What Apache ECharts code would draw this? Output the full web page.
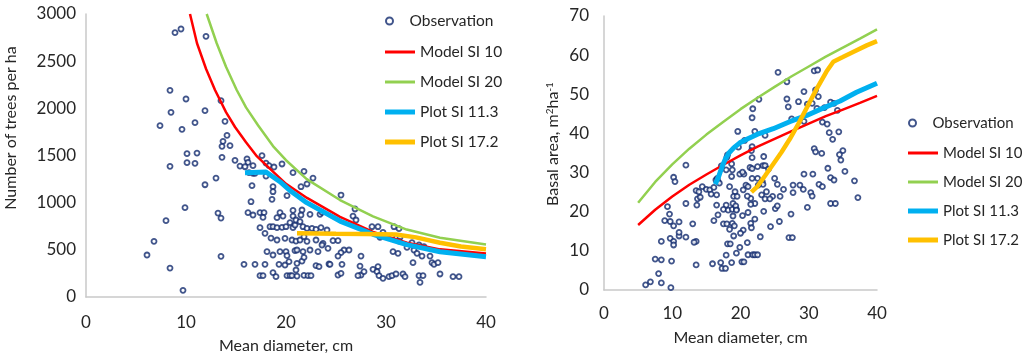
<!DOCTYPE html>
<html><head><meta charset="utf-8">
<script src="https://cdn.jsdelivr.net/npm/echarts@6/dist/echarts.min.js"></script>
<style>html,body{margin:0;padding:0;background:#fff}#c{width:1024px;height:357px}</style>
</head><body><div id="c"></div>
<script>
// ---------- Left panel: Number of trees per ha ----------
const leftObs = [
[8.9,2802],[9.5,2841],[12.0,2763],[8.4,2191],[10.0,2099],[13.5,2081],[8.5,1958],[11.9,1975],[7.4,1816],[9.6,1777],
[10.9,1848],[13.9,1862],[14.1,1714],[13.7,1650],[13.6,1597],[14.4,1604],[10.1,1519],[11.1,1526],[13.6,1481],[14.9,1449],
[10.1,1424],[10.9,1417],[8.4,1385],[13.0,1261],[11.9,1190],[9.9,947],[13.2,890],[13.5,837],[8.0,809],[6.8,590],
[6.1,445],[13.5,431],[8.4,307],[9.7,71],
[16.1,1463],[16.2,1427],[16.7,1392],[17.6,1498],[18.0,1420],[18.3,1392],[18.8,1378],[19.6,1410],[15.4,1388],[15.9,1381],
[16.3,1318],[16.7,1311],[16.9,1311],[18.0,1282],[16.6,1180],[18.7,1169],[18.7,1116],[18.6,1035],[16.5,1010],[20.1,1074],
[20.7,1318],[21.8,1332],[22.7,1261],[22.1,1198],[21.5,1169],[16.2,894],[16.7,869],[17.4,894],[17.8,894],[17.7,844],
[19.1,841],[19.4,894],[19.7,858],[20.7,918],[20.7,858],[21.6,922],[21.5,869],[22.4,876],[23.4,876],[23.6,897],
[17.4,735],[18.4,745],[18.7,745],[19.1,735],[19.6,738],[20.0,745],[20.4,788],[20.7,735],[20.9,763],[21.0,816],
[21.4,798],[21.7,745],[22.1,728],[22.6,728],[23.0,717],[23.5,735],[24.1,710],[17.9,675],[18.5,625],[19.1,604],
[19.9,622],[20.6,604],[21.0,593],[21.4,604],[21.8,639],[22.1,590],[23.0,604],[23.7,569],[24.2,516],[23.6,551],
[18.1,480],[18.7,445],[19.4,480],[20.0,480],[20.1,438],[20.9,491],[21.1,498],[21.7,480],[22.4,498],[23.2,480],
[15.8,346],[16.9,346],[17.9,346],[19.3,346],[19.9,339],[20.3,374],[21.1,357],[21.6,381],[21.8,420],[23.0,332],
[23.3,321],[24.3,350],[17.4,226],[17.7,226],[18.7,258],[19.0,215],[20.1,226],[20.4,226],[20.6,226],[21.0,286],
[21.1,222],[21.8,229],[22.2,226],[22.5,226],
[25.5,1081],[26.9,933],[26.7,858],[27.0,816],[28.6,745],[29.2,745],[29.7,685],[29.4,632],[30.8,745],[31.3,724],
[30.6,646],[31.4,632],[31.3,593],[24.7,597],[25.2,597],[25.8,498],[26.3,498],[25.5,470],[25.2,434],[27.5,434],
[30.7,480],[31.2,463],[32.1,526],[32.6,576],[33.3,551],[33.8,533],[32.8,498],[33.1,463],[33.6,434],[34.4,434],
[32.7,364],[34.6,364],[34.8,346],[35.2,364],[24.4,346],[25.6,346],[27.4,328],[29.2,321],[27.5,233],[27.8,268],
[27.2,226],[25.2,233],[25.5,251],[28.7,293],[29.1,268],[29.3,226],[29.7,198],[30.3,215],[30.6,226],[31.0,244],
[31.7,244],[31.9,215],[33.3,226],[33.7,226],[33.4,155],[35.4,244],[36.7,215],[37.3,215]
];
const leftModel10 = [[10.4,3000],[11.1,2690],[12.0,2420],[12.9,2194],[14.0,1960],[14.9,1802],[16.0,1640],[17.1,1490],[18.7,1330],[20.0,1200],[22.1,1050],[25.4,850],[28.7,690],[32.1,575],[35.4,505],[40,462]];
const leftModel20 = [[12.07,3000],[13.07,2690],[14.0,2440],[15.07,2194],[16.0,2010],[17.2,1820],[18.7,1600],[20.0,1450],[22.07,1250],[25.4,1028],[28.7,855],[32.07,715],[35.4,628],[40,556]];
const leftPlot113 = [[15.9,1318],[18.0,1325],[19.4,1222],[20.5,1120],[22.07,1000],[25.4,805],[28.7,665],[32.07,555],[35.4,480],[40,427]];
const leftPlot172 = [[21.1,675],[25.0,670],[28.0,668],[31.0,662],[33.0,632],[35.4,575],[37.5,535],[40,506]];

// ---------- Right panel: Basal area ----------
const rightObs = [
[6.1,1.3],[6.8,2.1],[8.4,1.8],[9.8,0.6],[8.0,4.2],[7.5,7.9],[8.4,7.7],[9.9,7.4],[8.4,12.4],[9.7,13.2],
[10.2,12.4],[10.2,11.5],[11.0,13.8],[11.0,14.7],[12.0,13.5],[13.5,12.4],[13.2,12.2],[8.9,17.7],[9.7,17.5],[10.2,16.4],
[11.0,17.4],[13.0,16.9],[9.6,19.4],[9.3,21.3],[12.0,22.1],[13.6,21.7],[13.7,23.3],[14.1,23.7],[13.5,25.4],[13.9,25.1],
[14.4,26.4],[15.0,25.7],[15.5,25.6],[15.7,24.5],[16.5,24.3],[16.1,26.2],[16.4,28.1],[16.6,28.5],[16.7,27.7],[16.9,27.3],
[17.2,31.7],[17.9,30.7],[18.1,34.5],[18.0,33.9],[18.7,32.2],[18.7,29.0],[18.4,26.4],[12.0,31.9],[10.2,28.8],[10.4,27.7],
[16.5,21.7],[17.9,21.7],[17.5,20.6],[18.2,20.4],[18.8,20.6],[19.4,20.6],[18.9,18.9],[16.1,17.7],[17.5,16.9],[18.0,16.9],
[18.8,17.0],[19.1,16.4],[18.4,15.5],[16.7,19.2],[18.1,11.8],[18.5,11.8],[19.0,13.8],[17.9,8.9],[18.7,7.0],[19.4,9.4],
[17.1,7.0],[17.3,5.5],[17.8,5.5],[15.9,6.7],[13.5,6.4],
[25.5,55.6],[30.8,56.0],[31.3,56.2],[26.8,53.2],[29.3,50.7],[31.0,51.1],[31.4,49.4],[26.8,48.8],[28.5,48.1],[29.8,47.5],
[30.5,47.7],[27.0,46.8],[31.2,46.4],[32.3,46.6],[33.2,48.0],[33.7,47.7],[34.2,45.9],[22.7,48.7],[21.8,46.3],[21.7,44.0],
[27.5,43.7],[29.3,43.1],[32.0,42.9],[32.7,42.4],[33.0,40.2],[34.4,40.4],[33.5,38.5],[19.6,40.5],[22.1,40.5],[20.6,38.2],
[23.6,39.5],[19.7,36.5],[21.7,36.6],[21.6,35.6],[21.7,33.8],[23.4,34.1],[30.8,36.1],[31.0,35.3],[31.9,34.9],[35.0,35.6],
[34.5,34.6],[34.7,33.2],[35.3,30.3],[32.8,31.1],[36.7,27.9],[37.2,23.6],[33.2,28.7],[33.7,28.1],[29.3,29.6],[30.6,29.6],
[31.5,27.0],[32.0,26.4],[28.7,26.8],[27.7,26.8],[27.7,24.9],[29.2,25.7],[30.3,24.9],[30.5,24.0],[29.8,21.1],[33.2,22.1],
[33.9,22.1],[27.4,19.4],[27.1,13.4],[27.6,13.4],[25.7,17.5],[24.4,16.2],[23.4,20.1],[22.9,13.6],[25.1,20.8],[25.4,21.5],
[24.7,23.9],[25.8,23.9],[26.3,25.7],[25.4,27.0],[25.0,28.5],[23.8,25.1],[23.1,24.3],[23.6,23.3],[24.3,23.3],[22.1,22.1],
[21.5,23.4],[21.0,24.0],[20.8,26.8],[21.1,26.4],[19.9,29.6],[20.5,29.6],[21.4,31.3],[21.7,31.0],[23.3,31.8],[23.6,31.8],
[22.5,31.5],[24.1,30.9],[23.2,27.7],[23.3,27.0],[22.6,26.8],[22.5,28.5],[21.7,28.5],[20.3,30.1],[18.8,30.7],[19.2,25.1],
[19.0,23.9],[19.5,23.9],[20.4,25.6],[18.9,22.1],[19.3,21.5],[19.4,20.4],[20.3,19.0],[21.1,19.8],[21.5,21.9],[22.1,18.1],
[21.5,17.0],[21.6,15.9],[20.4,15.3],[20.0,14.5],[21.0,12.1],[19.9,10.9],[21.1,9.0],[21.8,9.0],[22.1,9.0],[22.5,9.0],
[20.2,7.2],[20.5,7.2]
];
const rightModel10 = [[5,16.6],[7.5,20.5],[10,23.9],[12.5,26.9],[15,29.5],[17.5,32.0],[20,34.4],[22.5,36.6],[25,38.6],[27.5,40.6],[30,42.5],[32.5,44.4],[35,46.1],[37.5,47.8],[40,49.6]];
const rightModel20 = [[5,22.3],[7.5,27.6],[10,32.1],[12.5,36.1],[15,39.7],[17.5,43.0],[20,46.2],[22.5,49.1],[25,51.9],[27.5,54.6],[30,57.1],[32.5,59.6],[35,61.9],[37.5,64.2],[40,66.6]];
const rightPlot113 = [[16.3,27.0],[16.8,29.0],[17.3,31.5],[17.8,33.5],[18.3,35.0],[19.0,36.3],[19.9,37.6],[21.0,38.6],[22.5,39.8],[24.8,41.2],[27.2,43.0],[29.7,44.6],[32.0,46.4],[34.6,48.3],[37.0,50.5],[40,52.8]];
const rightPlot172 = [[21.6,25.0],[22.5,26.5],[23.6,29.2],[24.8,32.2],[26.0,35.2],[27.2,38.5],[28.5,42.5],[29.9,47.2],[31.1,51.2],[32.6,55.8],[33.6,58.3],[35.0,59.5],[36.5,60.8],[38.5,62.5],[40,63.6]];

const names = ['Observation','Model SI 10','Model SI 20','Plot SI 11.3','Plot SI 17.2'];
const colors = {obs:'#112B6E', m10:'#FF0000', m20:'#92D050', p11:'#00B0F0', p17:'#FFC000'};

const FONT = 'Lato, "Open Sans", sans-serif';
const TXT = '#262626';
const AX = '#C9C9C9';

function xAxis(gridIndex, nameGap, margin){
  return {gridIndex, type:'value', min:0, max:40, interval:10,
    name:'Mean diameter, cm', nameLocation:'middle', nameGap,
    nameTextStyle:{fontFamily:FONT, fontSize:16, color:TXT},
    axisLine:{lineStyle:{color:AX, width:1.5}}, axisTick:{show:false}, splitLine:{show:false},
    axisLabel:{fontFamily:FONT, fontSize:17, color:TXT, margin}};
}

function obsSeries(data, xi){
  return {name:names[0], type:'scatter', xAxisIndex:xi, yAxisIndex:xi, data,
    symbol:'circle', symbolSize:5, z:2,
    itemStyle:{color:'#ffffff', borderColor:colors.obs, borderWidth:1.8}};
}
function lineSeries(name, data, color, width, xi){
  return {name, type:'line', xAxisIndex:xi, yAxisIndex:xi, data, symbol:'none', smooth:false, z:3,
    lineStyle:{color, width}, itemStyle:{color}};
}
function legendLines(){
  return [
    {name:names[1], icon:'path://M0,0H30V3H0Z', itemStyle:{color:colors.m10, borderWidth:0}},
    {name:names[2], icon:'path://M0,0H30V3H0Z', itemStyle:{color:colors.m20, borderWidth:0}},
    {name:names[3], icon:'path://M0,0H30V5H0Z', itemStyle:{color:colors.p11, borderWidth:0}},
    {name:names[4], icon:'path://M0,0H30V5H0Z', itemStyle:{color:colors.p17, borderWidth:0}}
  ];
}

const chart = echarts.init(document.getElementById('c'));
const legTextL = {fontFamily:FONT, fontSize:15.5, color:TXT, lineHeight:18};
const legTextR = {fontFamily:FONT, fontSize:15, color:TXT, lineHeight:18};
const plain = v => String(v);
chart.setOption({
  animation:false,
  backgroundColor:'#ffffff',
  grid:[
    {left:86, top:14, width:400, height:283, containLabel:false, outerBoundsMode:'none'},
    {left:604, top:16, width:273, height:274, containLabel:false, outerBoundsMode:'none'}
  ],
  xAxis:[xAxis(0, 41, 17), xAxis(1, 40, 15)],
  yAxis:[
    {gridIndex:0, type:'value', min:0, max:3000, interval:500,
     name:'Number of trees per ha', nameLocation:'middle', nameGap:67,
     nameTextStyle:{fontFamily:FONT, fontSize:16, color:TXT, padding:[0,0,0,55]},
     axisLine:{show:true, lineStyle:{color:AX, width:1.5}}, axisTick:{show:false}, splitLine:{show:false},
     axisLabel:{fontFamily:FONT, fontSize:17, color:TXT, margin:10, formatter:plain}},
    {gridIndex:1, type:'value', min:0, max:70, interval:10,
     name:'Basal area, m{sup|2}ha{sup|-1}', nameLocation:'middle', nameGap:43,
     nameTextStyle:{fontFamily:FONT, fontSize:16, color:TXT, padding:[0,0,0,18],
       rich:{sup:{fontFamily:FONT, fontSize:10, color:TXT, verticalAlign:'top', lineHeight:10}}},
     axisLine:{show:true, lineStyle:{color:AX, width:1.5}}, axisTick:{show:false}, splitLine:{show:false},
     axisLabel:{fontFamily:FONT, fontSize:17, color:TXT, margin:15, formatter:plain}}
  ],
  legend:[
    {data:[names[0]], left:380, top:7, orient:'vertical', itemWidth:30, itemHeight:7, textStyle:legTextL, selectedMode:false},
    {data:legendLines(), left:380, top:38, orient:'vertical', itemWidth:30, itemHeight:14, itemGap:12, textStyle:legTextL, selectedMode:false},
    {data:[names[0]], left:903, top:109, orient:'vertical', itemWidth:30, itemHeight:7, textStyle:legTextR, selectedMode:false},
    {data:legendLines(), left:903, top:139, orient:'vertical', itemWidth:30, itemHeight:14, itemGap:11, textStyle:legTextR, selectedMode:false}
  ],
  series:[
    obsSeries(leftObs, 0),
    lineSeries(names[1], leftModel10, colors.m10, 2.5, 0),
    lineSeries(names[2], leftModel20, colors.m20, 2.5, 0),
    lineSeries(names[3], leftPlot113, colors.p11, 5, 0),
    lineSeries(names[4], leftPlot172, colors.p17, 4.5, 0),
    obsSeries(rightObs, 1),
    lineSeries(names[1], rightModel10, colors.m10, 2.5, 1),
    lineSeries(names[2], rightModel20, colors.m20, 2.5, 1),
    lineSeries(names[3], rightPlot113, colors.p11, 5, 1),
    lineSeries(names[4], rightPlot172, colors.p17, 4.5, 1)
  ]
});
</script></body></html>
